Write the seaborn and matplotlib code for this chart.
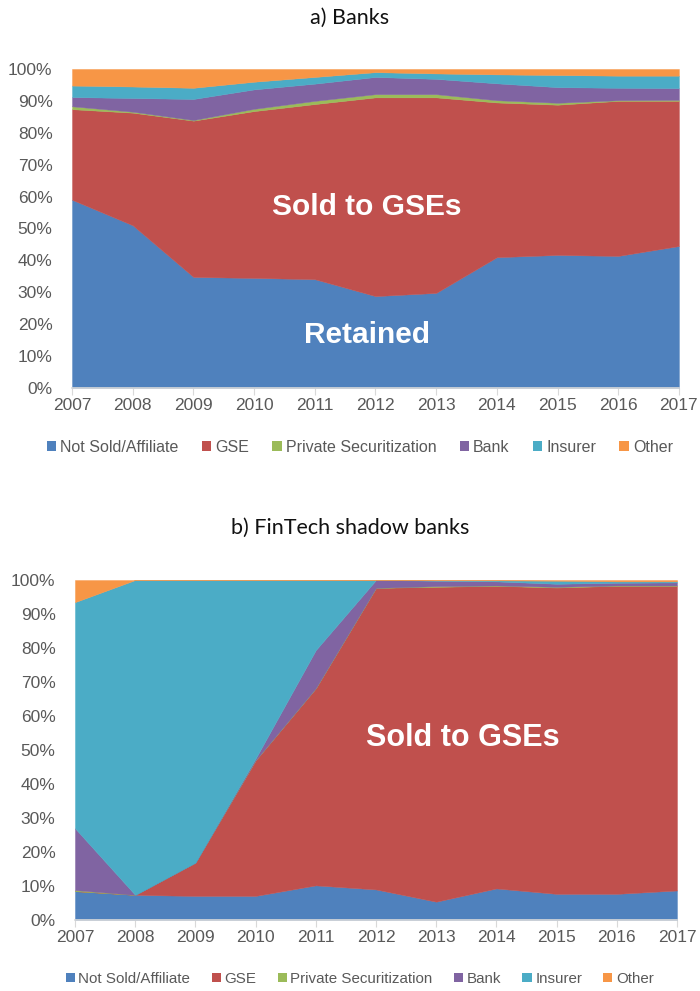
import matplotlib
matplotlib.use("Agg")
import matplotlib.pyplot as plt
from matplotlib.patches import Patch
import seaborn as sns
import numpy as np

years = [2007, 2008, 2009, 2010, 2011, 2012, 2013, 2014, 2015, 2016, 2017]
series_names = ["Not Sold/Affiliate", "GSE", "Private Securitization", "Bank", "Insurer", "Other"]
series_colors = ["#4F81BD", "#C0504D", "#9BBB59", "#8064A2", "#4BACC6", "#F79646"]

# a) Banks: share of originations by purchaser type (%)
banks_not_sold = [59.0, 51.0, 34.8, 34.5, 34.1, 28.8, 29.8, 41.0, 41.7, 41.4, 44.5]
banks_gse      = [28.4, 35.3, 49.0, 52.3, 54.9, 62.3, 61.3, 48.5, 47.1, 48.6, 45.5]
banks_private  = [0.9, 0.3, 0.2, 0.7, 1.0, 1.0, 1.0, 0.7, 0.6, 0.2, 0.3]
banks_bank     = [2.9, 4.3, 6.6, 6.1, 5.4, 5.4, 4.8, 5.3, 4.9, 3.9, 3.7]
banks_insurer  = [3.6, 3.6, 3.5, 2.4, 2.1, 1.5, 1.7, 2.8, 3.8, 3.8, 3.9]
banks_other    = [5.2, 5.5, 5.9, 4.0, 2.5, 1.0, 1.4, 1.7, 1.9, 2.1, 2.1]

# b) FinTech shadow banks
fin_not_sold = [8.5, 7.4, 7.1, 7.1, 10.2, 9.0, 5.4, 9.3, 7.7, 7.7, 8.7]
fin_gse      = [0.0, 0.0, 9.8, 39.9, 58.0, 88.7, 92.6, 89.0, 90.1, 90.6, 89.6]
fin_private  = [0.3, 0.0, 0.0, 0.0, 0.0, 0.0, 0.2, 0.1, 0.2, 0.1, 0.1]
fin_bank     = [18.2, 0.0, 0.0, 0.5, 11.2, 2.3, 1.6, 1.2, 0.9, 0.8, 0.9]
fin_insurer  = [66.5, 92.6, 83.1, 52.5, 20.6, 0.0, 0.1, 0.3, 0.9, 0.4, 0.3]
fin_other    = [6.5, 0.0, 0.0, 0.0, 0.0, 0.0, 0.1, 0.1, 0.2, 0.4, 0.4]

y_ticks = [0, 10, 20, 30, 40, 50, 60, 70, 80, 90, 100]
y_tick_labels = [f"{v}%" for v in y_ticks]

sns.set_theme(style="white")
plt.rcParams["font.family"] = ["Liberation Sans", "DejaVu Sans"]

TICK_COLOR = "#595959"
AXIS_COLOR = "#D9D9D9"

fig = plt.figure(figsize=(7.0, 9.91), dpi=100)
ax_a = fig.add_axes([0.1029, 0.6085, 0.867, 0.3219])
ax_b = fig.add_axes([0.1071, 0.0716, 0.860, 0.3431])


def draw_panel(ax, layers):
    ax.stackplot(years, *layers, colors=series_colors,
                 edgecolor="face", linewidth=0.3)
    ax.set_xlim(years[0], years[-1])
    ax.set_ylim(0, 100)
    ax.set_xticks(years)
    ax.set_xticklabels([str(y) for y in years])
    ax.set_yticks(y_ticks)
    ax.set_yticklabels(y_tick_labels)
    ax.tick_params(axis="x", direction="out", length=5, width=0.8,
                   color=AXIS_COLOR, labelsize=12.5, labelcolor=TICK_COLOR, pad=2,
                   bottom=True)
    ax.tick_params(axis="y", length=0, labelsize=12.5, labelcolor=TICK_COLOR, pad=14)
    sns.despine(ax=ax, top=True, right=True, left=True, bottom=False)
    ax.spines["bottom"].set_color(AXIS_COLOR)
    ax.spines["bottom"].set_linewidth(1.2)
    ax.grid(False)


draw_panel(ax_a, [banks_not_sold, banks_gse, banks_private, banks_bank, banks_insurer, banks_other])
draw_panel(ax_b, [fin_not_sold, fin_gse, fin_private, fin_bank, fin_insurer, fin_other])

# Panel annotations
ax_a.text(2011.86, 56.7, "Sold to GSEs", color="white", fontsize=21.5,
          fontweight="bold", ha="center", va="center")
ax_a.text(2011.86, 16.6, "Retained", color="white", fontsize=21.5,
          fontweight="bold", ha="center", va="center")
ax_b.text(2013.45, 53.5, "Sold to GSEs", color="white", fontsize=22,
          fontweight="bold", ha="center", va="center")

# Panel titles
fig.text(0.5, 1 - 18 / 991, "a) Banks", ha="center", va="center",
         fontsize=15.5, family=["Lato", "DejaVu Sans"], color="#111111")
fig.text(0.5, 1 - 528 / 991, "b) FinTech shadow banks", ha="center", va="center",
         fontsize=15.5, family=["Lato", "DejaVu Sans"], color="#111111")

handles = [Patch(facecolor=c, edgecolor="none") for c in series_colors]

fig.legend(handles, series_names, loc="center", bbox_to_anchor=(0.514, 1 - 447 / 991),
           ncol=6, frameon=False, fontsize=11.5, labelcolor=TICK_COLOR,
           handlelength=0.6, handleheight=0.6, handletextpad=0.25, columnspacing=1.45)
fig.legend(handles, series_names, loc="center", bbox_to_anchor=(0.514, 1 - 979 / 991),
           ncol=6, frameon=False, fontsize=10.9, labelcolor=TICK_COLOR,
           handlelength=0.6, handleheight=0.6, handletextpad=0.25, columnspacing=1.4)

fig.savefig("out.png", dpi=100, facecolor="white")
